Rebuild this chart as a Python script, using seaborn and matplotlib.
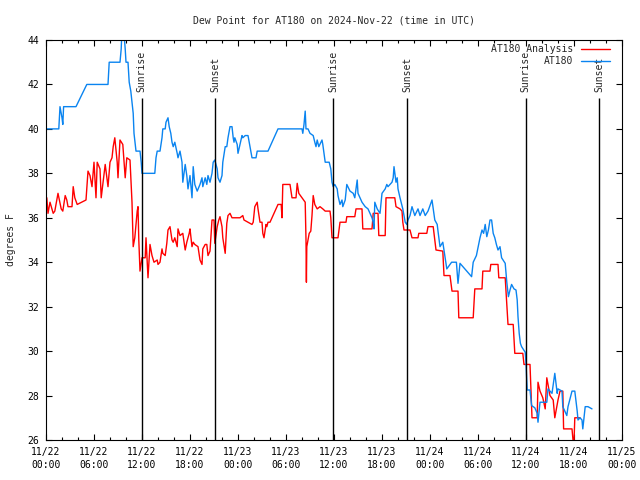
import matplotlib
matplotlib.use("Agg")
import matplotlib.pyplot as plt
import matplotlib.dates as mdates
import pandas as pd
import seaborn as sns

start = pd.Timestamp("2024-11-22 00:00")

# AT180 Analysis (red): hours after start, dew point F
analysis_hours = [
    0.0, 0.1, 0.25, 0.5, 0.9, 1.1, 1.5, 1.9, 2.1, 2.4, 2.6, 2.75, 3.25, 3.4, 3.6, 3.9,
    5.0, 5.25, 5.5, 5.75, 6.0, 6.25, 6.4, 6.75, 6.9, 7.4, 7.75, 8.0, 8.25, 8.4, 8.6, 8.9,
    9.0, 9.25, 9.6, 9.9, 10.1, 10.5, 10.75, 10.9, 11.1, 11.4, 11.5, 11.6, 11.75, 12.0,
    12.4, 12.5, 12.75, 13.0, 13.25, 13.5, 13.9, 14.0, 14.25, 14.5, 14.6, 14.9, 15.1,
    15.25, 15.5, 15.75, 15.9, 16.1, 16.4, 16.5, 16.75, 17.1, 17.4, 17.6, 17.9, 18.0,
    18.25, 18.4, 18.6, 19.0, 19.25, 19.5, 19.6, 19.9, 20.1, 20.25, 20.5, 20.75, 21.0,
    21.1, 21.4, 21.6, 21.75, 22.0, 22.1, 22.4, 22.6, 22.75, 23.0, 23.25, 24.0, 24.25,
    24.6, 24.75, 25.25, 25.75, 25.9, 26.1, 26.4, 26.5, 26.75, 27.0, 27.1, 27.25, 27.5,
    27.6, 27.75, 28.0, 29.0, 29.4, 29.5, 29.6, 30.5, 30.75, 31.25, 31.4, 31.6, 32.0,
    32.4, 32.5, 32.55, 32.6, 32.9, 33.1, 33.25, 33.4, 33.6, 33.9, 34.25, 34.6, 34.9,
    35.5, 35.6, 35.75, 36.5, 36.75, 37.5, 37.6, 38.6, 38.75, 39.5, 39.6, 40.75, 40.9,
    41.5, 41.6, 42.4, 42.5, 43.6, 43.75, 44.25, 44.5, 44.6, 44.75, 45.5, 45.75, 46.5,
    46.6, 47.6, 47.75, 48.4, 48.6, 48.75, 49.6, 49.75, 50.5, 50.75, 51.5, 51.6, 53.4,
    53.6, 54.5, 54.6, 55.5, 55.6, 56.5, 56.6, 57.4, 57.75, 58.4, 58.6, 59.6, 59.75,
    60.5, 60.75, 61.4, 61.5, 61.75, 62.1, 62.4, 62.6, 63.0, 63.4, 63.6, 64.0, 64.25,
    64.6, 64.7, 65.75, 65.9, 66.0, 66.1, 66.75,
]
analysis_dewpt = [
    36.1, 36.9, 36.2, 36.7, 36.2, 36.3, 37.1, 36.4, 36.3, 37.0, 36.8, 36.5, 36.5, 37.4, 36.9, 36.6,
    36.8, 38.1, 37.9, 37.4, 38.5, 36.9, 38.5, 38.2, 36.9, 38.4, 37.4, 38.5, 38.7, 39.2, 39.6, 38.5,
    37.8, 39.5, 39.3, 37.8, 38.7, 38.6, 36.7, 34.7, 35.1, 36.3, 36.5, 35.0, 33.6, 34.2,
    34.2, 35.1, 33.3, 34.8, 34.3, 34.0, 34.1, 33.9, 34.0, 34.6, 34.4, 34.3, 34.85,
    35.45, 35.6, 35.0, 34.9, 35.1, 34.7, 35.5, 35.2, 35.3, 34.55, 34.9, 35.3, 35.5,
    34.7, 34.9, 34.8, 34.7, 34.1, 33.9, 34.6, 34.8, 34.8, 34.3, 34.5, 35.9, 35.9,
    34.85, 35.6, 35.9, 36.05, 35.6, 35.1, 34.4, 35.75, 36.1, 36.2, 36.0, 36.0, 36.0,
    36.1, 35.9, 35.8, 35.7, 35.8, 36.5, 36.7, 36.4, 35.8, 35.8, 35.3, 35.1, 35.7,
    35.6, 35.8, 35.8, 36.6, 36.6, 36.0, 37.5, 37.5, 36.9, 36.9, 37.55, 37.1, 36.9,
    36.7, 35.0, 33.1, 34.7, 35.3, 35.4, 36.1, 37.0, 36.6, 36.4, 36.5, 36.4, 36.3,
    36.3, 36.0, 35.1, 35.1, 35.8, 35.8, 36.05, 36.05, 36.4, 36.4, 35.5, 35.5, 36.2,
    36.2, 35.2, 35.2, 36.9, 36.9, 36.5, 36.4, 36.3, 35.8, 35.45, 35.45, 35.1, 35.1,
    35.3, 35.3, 35.6, 35.6, 35.0, 34.55, 34.5, 33.4, 33.4, 32.7, 32.7, 31.5, 31.5,
    32.8, 32.8, 33.6, 33.6, 33.9, 33.9, 33.3, 33.3, 31.2, 31.2, 29.9, 29.9, 29.4,
    29.4, 27.0, 27.0, 28.6, 28.2, 27.9, 27.4, 28.8, 28.0, 27.8, 27.0, 27.8, 28.2,
    28.2, 26.5, 26.5, 25.9, 25.9, 27.0, 27.0,
]

# AT180 observations (blue)
obs_hours = [
    0.0, 1.6, 1.75, 2.0, 2.1, 2.2, 3.75, 5.1, 7.75, 7.9, 9.25, 9.4, 9.5, 9.7, 9.9, 10.0,
    10.25, 10.4, 10.6, 10.9, 11.0, 11.25, 11.75, 11.9, 12.0, 13.6, 13.75, 13.9, 14.25,
    14.5, 14.6, 14.9, 15.0, 15.25, 15.4, 15.6, 15.75, 15.9, 16.1, 16.4, 16.5, 16.75,
    17.0, 17.1, 17.4, 17.6, 17.75, 18.0, 18.25, 18.4, 18.6, 18.9, 19.25, 19.5, 19.6,
    19.9, 20.1, 20.25, 20.5, 20.75, 20.9, 21.1, 21.4, 21.5, 21.75, 22.0, 22.1, 22.4,
    22.6, 22.75, 23.0, 23.25, 23.4, 23.5, 23.6, 23.9, 24.0, 24.25, 24.5, 24.6, 24.9,
    25.25, 25.5, 25.75, 26.25, 26.4, 27.75, 29.0, 32.0, 32.1, 32.25, 32.4, 32.5, 32.75,
    33.0, 33.4, 33.6, 33.75, 33.9, 34.1, 34.5, 34.6, 34.9, 35.4, 35.6, 35.75, 35.9,
    36.1, 36.4, 36.5, 36.75, 37.0, 37.1, 37.4, 37.6, 38.0, 38.4, 38.6, 38.9, 39.0,
    39.5, 39.9, 40.25, 40.75, 40.9, 41.0, 41.1, 41.4, 41.75, 42.0, 42.4, 42.6, 42.75,
    43.25, 43.4, 43.5, 43.75, 43.9, 44.0, 44.25, 44.6, 44.9, 45.1, 45.25, 45.5, 45.75,
    46.1, 46.5, 46.75, 47.1, 47.4, 47.75, 48.25, 48.4, 48.6, 48.9, 49.0, 49.25, 49.6,
    50.1, 50.7, 51.3, 51.5, 51.75, 53.2, 53.4, 53.8, 54.25, 54.5, 54.7, 54.9, 55.1,
    55.3, 55.5, 55.7, 55.9, 56.1, 56.3, 56.5, 56.75, 56.95, 57.4, 57.6, 57.8, 58.0,
    58.2, 58.5, 58.75, 58.9, 59.0, 59.15, 59.3, 59.45, 59.9, 60.0, 60.1, 60.15, 60.5,
    60.7, 61.1, 61.4, 61.5, 61.75, 62.6, 62.75, 63.25, 63.4, 63.6, 63.9, 64.0, 64.5,
    64.6, 65.1, 65.25, 65.75, 66.1, 66.4, 66.5, 66.75, 67.0, 67.1, 67.4, 67.75, 68.25,
]
obs_dewpt = [
    40.0, 40.0, 41.0, 40.5, 40.2, 41.0, 41.0, 42.0, 42.0, 43.0, 43.0, 43.6, 44.5, 44.5, 43.6, 43.0,
    43.0, 42.1, 41.7, 40.7, 39.8, 39.0, 39.0, 38.5, 38.0, 38.0, 38.7, 39.0, 39.0,
    39.6, 40.0, 40.0, 40.3, 40.5, 40.1, 39.8, 39.4, 39.2, 39.4, 38.9, 38.7, 39.0,
    38.5, 37.6, 38.4, 37.9, 37.3, 37.9, 36.9, 38.3, 37.5, 37.2, 37.5, 37.8, 37.4,
    37.8, 37.5, 37.9, 37.6, 38.0, 38.5, 38.6, 38.2, 37.8, 37.6, 37.9, 38.5, 39.2,
    39.2, 39.6, 40.1, 40.1, 39.6, 39.4, 39.6, 39.3, 38.9, 39.3, 39.7, 39.6, 39.7,
    39.7, 39.2, 38.7, 38.7, 39.0, 39.0, 40.0, 40.0, 39.8, 40.2, 40.8, 40.0, 40.0,
    39.8, 39.7, 39.4, 39.2, 39.5, 39.2, 39.5, 39.3, 38.5, 38.5, 38.2, 37.6, 37.4,
    37.5, 37.3, 37.0, 36.6, 36.8, 36.5, 36.8, 37.5, 37.2, 37.1, 36.9, 37.7, 37.1,
    36.7, 36.5, 36.4, 36.0, 35.8, 35.5, 36.7, 36.4, 36.2, 37.1, 37.3, 37.5, 37.4,
    37.6, 37.8, 38.3, 37.6, 37.8, 37.3, 36.9, 36.4, 35.8, 35.7, 35.9, 36.1, 36.5,
    36.1, 36.4, 36.1, 36.4, 36.1, 36.3, 36.8, 36.4, 35.9, 35.7, 35.4, 34.7, 34.9,
    33.7, 34.0, 34.0, 33.05, 33.95, 33.35, 34.0, 34.3, 35.1, 35.45, 35.3, 35.7, 35.15,
    35.45, 35.9, 35.9, 35.3, 35.1, 34.8, 34.55, 34.7, 34.2, 33.95, 33.1, 32.45, 32.75,
    33.0, 32.8, 32.75, 32.3, 31.55, 30.8, 30.35, 30.2, 29.95, 29.45, 28.7, 28.25, 28.25,
    27.55, 27.45, 27.2, 26.8, 27.7, 27.7, 28.3, 28.1, 28.5, 29.0, 28.1, 28.3, 28.2,
    27.5, 27.1, 27.5, 28.2, 28.2, 27.3, 26.9, 27.0, 26.9, 26.5, 27.5, 27.5, 27.4,
]

sun_labels = ["Sunrise", "Sunset", "Sunrise", "Sunset", "Sunrise", "Sunset"]
sun_times = ["2024-11-22 11:57", "2024-11-22 21:10", "2024-11-23 11:55",
             "2024-11-23 21:10", "2024-11-24 11:57", "2024-11-24 21:09"]

analysis_time = start + pd.to_timedelta(analysis_hours, unit="h")
obs_time = start + pd.to_timedelta(obs_hours, unit="h")
sun_time = pd.to_datetime(sun_times)

sns.set_style("ticks")
plt.rcParams['font.family'] = ['DejaVu Sans Mono']
plt.rcParams['font.size'] = 7

fig = plt.figure(figsize=(6.4, 4.8), dpi=100)
ax = fig.add_axes([46 / 640, 40 / 480, 576 / 640, 400 / 480])

sns.lineplot(x=analysis_time, y=analysis_dewpt, color="#ff0000", linewidth=1.0,
             label="AT180 Analysis", ax=ax)
sns.lineplot(x=obs_time, y=obs_dewpt, color="#0a84f0", linewidth=1.0,
             label="AT180", ax=ax)

# sunrise / sunset markers
ax.vlines(sun_time, 26, 41.4, color="black", linewidth=1.0)
for t, lab in zip(sun_time, sun_labels):
    ax.text(t, 41.66, lab, rotation=90, ha="center", va="bottom", fontsize=7)

ax.set_xlim(start, start + pd.Timedelta(hours=72))
ax.set_ylim(26, 44)
ax.set_yticks(range(26, 45, 2))
ax.xaxis.set_major_locator(mdates.HourLocator(byhour=range(0, 24, 6)))
ax.xaxis.set_minor_locator(mdates.HourLocator(byhour=range(0, 24, 2)))
ax.xaxis.set_major_formatter(mdates.DateFormatter("%m/%d\n%H:%M"))
for lbl in ax.get_xticklabels():
    lbl.set_linespacing(1.4)

ax.tick_params(which="both", direction="in", top=True, right=True, width=0.8,
               colors="black", labelsize=7)
ax.tick_params(which="major", length=4.5, pad=5)
ax.tick_params(which="minor", length=2.5)
for s in ax.spines.values():
    s.set_linewidth(0.8)
    s.set_color("black")

ax.set_xlabel("")
ax.set_ylabel("degrees F", fontsize=7, labelpad=8)
ax.set_title("Dew Point for AT180 on 2024-Nov-22 (time in UTC)", fontsize=7, pad=12)

ax.legend(loc="upper right", bbox_to_anchor=(1 - 12 / 576, 1 - 4 / 400),
          frameon=False, markerfirst=False, handlelength=3.0, handletextpad=0.8,
          labelspacing=0.2, borderaxespad=0, borderpad=0, fontsize=7)

plt.savefig("out.png", dpi=100)
